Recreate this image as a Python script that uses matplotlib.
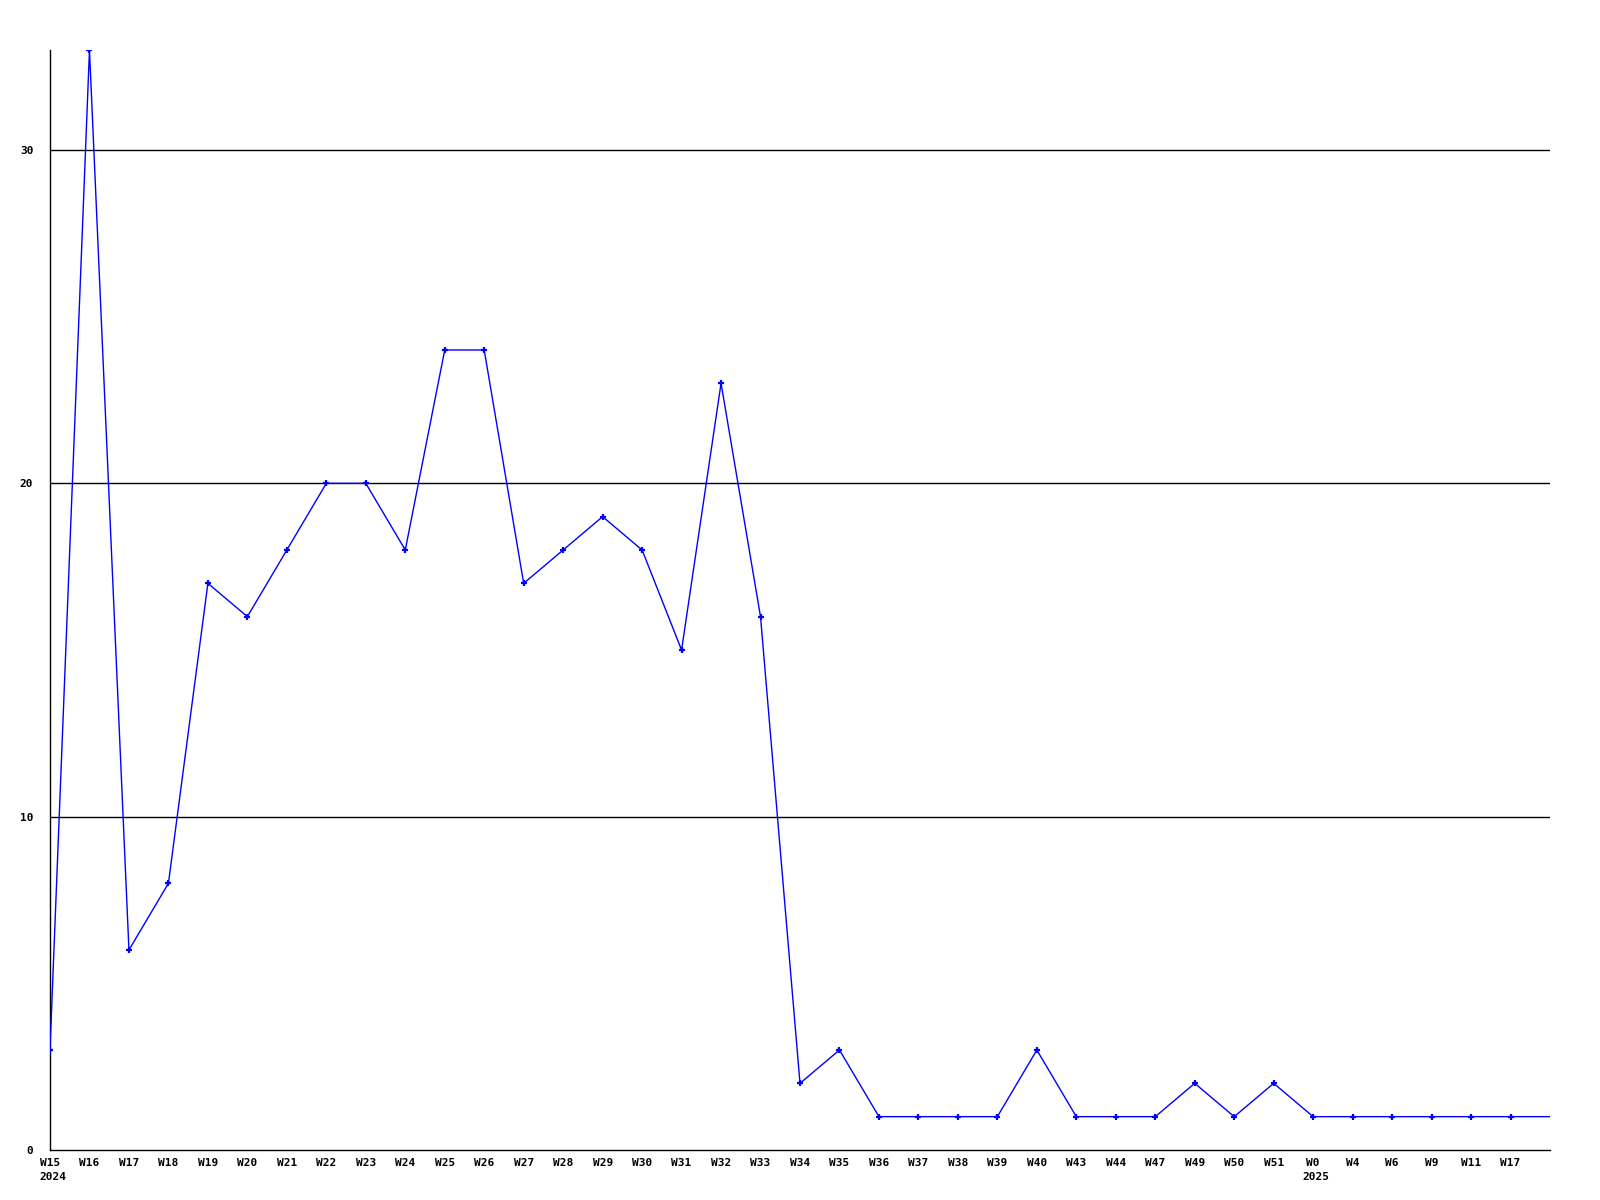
import matplotlib
matplotlib.use("Agg")
import matplotlib.pyplot as plt
from matplotlib.transforms import offset_copy

# weekly counts
weeks = ["W15", "W16", "W17", "W18", "W19", "W20", "W21", "W22", "W23", "W24",
         "W25", "W26", "W27", "W28", "W29", "W30", "W31", "W32", "W33", "W34",
         "W35", "W36", "W37", "W38", "W39", "W40", "W43", "W44", "W47", "W49",
         "W50", "W51", "W0", "W4", "W6", "W9", "W11", "W17", ""]
values = [3, 33, 6, 8, 17, 16, 18, 20, 20, 18,
          24, 24, 17, 18, 19, 18, 15, 23, 16, 2,
          3, 1, 1, 1, 1, 3, 1, 1, 1, 2,
          1, 2, 1, 1, 1, 1, 1, 1, 1]
years = {"W15": "2024", "W0": "2025"}
y_ticks = [0, 10, 20, 30]

font = {"family": "DejaVu Sans Mono", "weight": "bold", "size": 8}

fig = plt.figure(figsize=(16, 12), dpi=100)
ax = fig.add_axes([0.03125, 0.04167, 0.9375, 0.91667])

xs = list(range(len(values)))
# last point runs to the edge without a marker
ax.plot(xs, values, color="#0000ff", linewidth=1.0, marker="+",
        markersize=5, markeredgewidth=1.6, markevery=xs[:-1],
        clip_on=True, zorder=3)

ax.set_xlim(0, len(values) - 1)
ax.set_ylim(0, 33)

for y in y_ticks[1:]:
    ax.axhline(y, color="black", linewidth=1.0, zorder=1)

ax.set_yticks(y_ticks)
ax.set_yticklabels([str(v) for v in y_ticks], fontdict=font)
ax.set_xticks(xs[:-1])
ax.set_xticklabels(weeks[:-1], fontdict=font)
ax.tick_params(axis="both", length=0)
ax.tick_params(axis="y", pad=12)
ax.tick_params(axis="x", pad=6)

for s in ["top", "right"]:
    ax.spines[s].set_visible(False)
for s in ["left", "bottom"]:
    ax.spines[s].set_linewidth(1.0)
    ax.spines[s].set_color("black")

# year labels under the first week of each year
for i, w in enumerate(weeks):
    if w in years:
        tr = offset_copy(ax.get_xaxis_transform(), fig=fig, x=-7.5, y=-16,
                         units="points")
        ax.text(i, 0, years[w], transform=tr, ha="left", va="top",
                fontdict=font)

fig.savefig("out.png", dpi=100)
